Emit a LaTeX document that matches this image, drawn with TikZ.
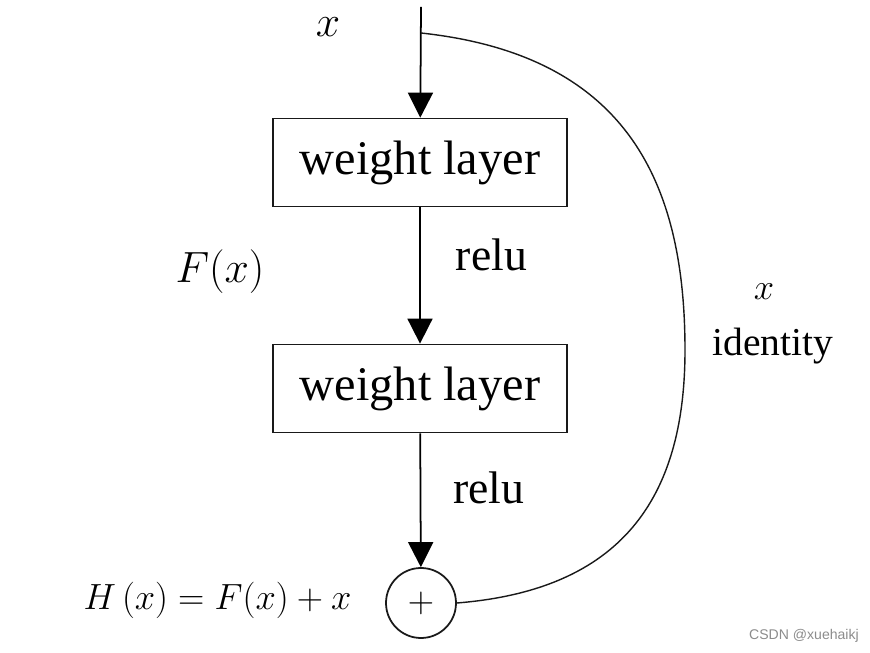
\documentclass[tikz,border=0pt]{standalone}
\usepackage{fontspec}
\setmainfont{Liberation Serif}
\newfontfamily\wmfont{Liberation Sans}
\usepackage{xcolor}
\usetikzlibrary{shapes.geometric, arrows.meta, positioning, calc}

\begin{document}
\begin{tikzpicture}[x=1cm,y=1cm]
\tikzset{
  wl/.style={rectangle,draw=black!90,line width=1pt,minimum width=5.88cm,minimum height=1.76cm,font=\fontsize{27.5}{30}\selectfont},
  lb/.style={font=\fontsize{26}{30}\selectfont},
  mt/.style={font=\fontsize{23}{27}\selectfont},
  ar/.style={-{Triangle[length=5mm,width=5mm]},line width=1pt,draw=black}
}
\useasboundingbox (0,0) rectangle (17.4,-13.06);
\coordinate (top) at (8.42,-0.14);
\coordinate (sp) at (8.42,-0.66);
\node[wl] (w1) at (8.40,-3.25) {weight layer};
\node[wl] (w2) at (8.40,-7.77) {weight layer};
\node[circle,draw=black!90,line width=1pt,minimum size=1.4cm,font=\fontsize{20}{24}\selectfont] (add) at (8.42,-12.06) {$+$};
\draw[ar] (top)--(w1); \draw[ar] (w1)--(w2); \draw[ar] (w2)--(add);
\draw[line width=0.8pt,draw=black!90] (sp) .. controls (12.5,-1.1) and (13.7,-3.6) .. (13.7,-7.0)
  .. controls (13.7,-10.0) and (12.4,-11.8) .. (add.east);
% labels
\node[mt] (xin) at (6.56,-0.54) {$x$};
\node[lb] (r1) at (9.83,-5.1) {relu};
\node[lb] (r2) at (9.78,-9.76) {relu};
\node[mt] (fx) at (4.4,-5.44) {$F(x)$};
\node[font=\fontsize{20}{24}\selectfont] (hx) at (4.35,-12.0) {$H\,(x)=F(x)+x$};
\node[font=\fontsize{22.5}{26}\selectfont] (xid) at (15.28,-5.84) {$x$};
\node[font=\fontsize{22.5}{26}\selectfont] (id) at (15.46,-6.92) {identity};
\node[font=\wmfont\fontsize{8}{10}\selectfont,text=black!45] (wm) at (16.08,-12.72) {CSDN @xuehaikj};
\end{tikzpicture}
\end{document}
